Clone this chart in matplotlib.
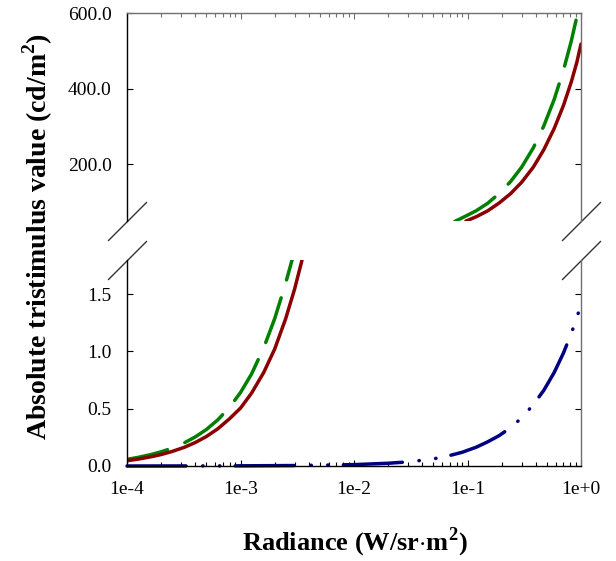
import matplotlib
matplotlib.use("Agg")
import matplotlib.pyplot as plt
from matplotlib.ticker import LogLocator, FixedLocator, FixedFormatter, NullFormatter

plt.rcParams['font.family'] = ['Liberation Serif', 'DejaVu Serif']
plt.rcParams['mathtext.fontset'] = 'custom'
plt.rcParams['mathtext.rm'] = 'Liberation Serif'
plt.rcParams['mathtext.bf'] = 'Liberation Serif:bold'
plt.rcParams['lines.scale_dashes'] = False

# ---- data ----
x_tick_vals = [1e-4, 1e-3, 1e-2, 1e-1, 1e0]
x_tick_labels = ['1e-4', '1e-3', '1e-2', '1e-1', '1e+0']
ytop_ticks = [200.0, 400.0, 600.0]
ytop_labels = ['200.0', '400.0', '600.0']
ybot_ticks = [0.0, 0.5, 1.0, 1.5]
ybot_labels = ['0.0', '0.5', '1.0', '1.5']

red_lo_x = [1e-4, 1.25e-4, 1.6e-4, 2e-4, 2.5e-4, 3.2e-4, 4e-4, 5e-4, 6.3e-4, 8e-4,
            1e-3, 1.25e-3, 1.6e-3, 2e-3, 2.5e-3, 3.0e-3, 3.49e-3]
red_lo_y = [0.046, 0.060, 0.079, 0.100, 0.127, 0.163, 0.205, 0.257, 0.324, 0.412,
            0.505, 0.635, 0.815, 1.02, 1.285, 1.545, 1.80]

green_lo_x = [1e-4, 1.25e-4, 1.6e-4, 2e-4, 2.5e-4, 3.2e-4, 4e-4, 5e-4, 6.3e-4, 8e-4,
              1e-3, 1.25e-3, 1.6e-3, 2e-3, 2.5e-3, 2.85e-3]
green_lo_y = [0.058, 0.075, 0.098, 0.124, 0.156, 0.202, 0.254, 0.318, 0.402, 0.512,
              0.641, 0.802, 1.03, 1.285, 1.595, 1.80]

red_hi_x = [0.0966, 0.12, 0.15, 0.19, 0.24, 0.3, 0.38, 0.47, 0.58, 0.7, 0.82, 0.92, 1.0]
red_hi_y = [49, 61, 76, 97, 122, 152, 192, 238, 294, 355, 417, 470, 518]

green_hi_x = [0.077, 0.093, 0.12, 0.15, 0.19, 0.24, 0.3, 0.38, 0.47, 0.58, 0.7, 0.82, 0.935]
green_hi_y = [48, 60, 77, 96, 122, 154, 192, 243, 301, 371, 448, 525, 600]

blue_x = [1e-4, 3e-4, 1e-3, 3e-3, 1e-2, 2e-2, 3e-2, 4e-2, 5.3e-2, 7e-2, 0.09, 0.12,
          0.15, 0.19, 0.24, 0.3, 0.38, 0.47, 0.58, 0.7, 0.82, 0.92, 1.0]
blue_y = [0.0, 0.0005, 0.0015, 0.004, 0.012, 0.024, 0.036, 0.05, 0.067, 0.092, 0.12,
          0.165, 0.21, 0.265, 0.335, 0.42, 0.535, 0.66, 0.815, 0.985, 1.155, 1.295, 1.41]

GREEN = '#008000'
RED = '#8B0000'
BLUE = '#000080'
SPINE_GREY = '#707070'

W, H = 616, 561
fig = plt.figure(figsize=(W / 100, H / 100), dpi=100)
L, R = 127, 581
ax_top = fig.add_axes([L / W, 1 - 221 / H, (R - L) / W, (221 - 13) / H])
ax_bot = fig.add_axes([L / W, 1 - 466 / H, (R - L) / W, (466 - 260) / H])

lw = 2.5
green_dash_lo = (4, (34, 13.5))
green_dash_hi = (0, (34, 13.5))
blue_dash = (0, (42.5, 12, 0.3, 11.8, 0.3, 11))

for ax in (ax_top, ax_bot):
    ax.set_xscale('log')
    ax.set_xlim(1e-4, 1.0)
    ax.xaxis.set_major_locator(FixedLocator(x_tick_vals))
    ax.xaxis.set_minor_locator(LogLocator(base=10, subs=[2, 3, 4, 5, 6, 7, 8, 9]))
    ax.xaxis.set_minor_formatter(NullFormatter())
    ax.tick_params(which='major', direction='in', length=6 * 0.72, width=0.8,
                   labelsize=14)
    ax.tick_params(which='minor', direction='in', length=4 * 0.72, width=0.8)
    ax.tick_params(axis='y', left=True, right=True, pad=11)
    ax.spines['left'].set_linewidth(1.0)
    ax.spines['right'].set_linewidth(1.0)
    ax.spines['right'].set_color(SPINE_GREY)

# top panel
ax_top.plot(green_hi_x, green_hi_y, color=GREEN, lw=lw, linestyle=green_dash_hi,
            dash_capstyle='round')
ax_top.plot(red_hi_x, red_hi_y, color=RED, lw=lw, solid_capstyle='round')
ax_top.set_ylim(49.4, 600)
ax_top.yaxis.set_major_locator(FixedLocator(ytop_ticks))
ax_top.yaxis.set_major_formatter(FixedFormatter(ytop_labels))
ax_top.spines['bottom'].set_visible(False)
ax_top.spines['top'].set_color(SPINE_GREY)
ax_top.spines['top'].set_linewidth(1.0)
ax_top.tick_params(axis='x', which='both', bottom=False, top=True,
                   labelbottom=False, labeltop=False, color=SPINE_GREY)

# bottom panel
ax_bot.plot(green_lo_x, green_lo_y, color=GREEN, lw=lw, linestyle=green_dash_lo,
            dash_capstyle='round')
ax_bot.plot(red_lo_x, red_lo_y, color=RED, lw=lw, solid_capstyle='round')
ax_bot.plot(blue_x, blue_y, color=BLUE, lw=lw, linestyle=blue_dash,
            dash_capstyle='round', clip_on=False)
ax_bot.set_ylim(0, 1.797)
ax_bot.yaxis.set_major_locator(FixedLocator(ybot_ticks))
ax_bot.yaxis.set_major_formatter(FixedFormatter(ybot_labels))
ax_bot.xaxis.set_major_formatter(FixedFormatter(x_tick_labels))
ax_bot.spines['top'].set_visible(False)
ax_bot.spines['bottom'].set_linewidth(1.0)
ax_bot.tick_params(axis='x', which='both', top=False, bottom=True, pad=11)

# break marks
mk = dict(marker=[(-1, -1), (1, 1)], markersize=28, linestyle='none',
          color='#333333', mec='#333333', mew=1.0, clip_on=False)
ax_top.plot([0, 1], [0, 0], transform=ax_top.transAxes, **mk)
ax_bot.plot([0, 1], [1, 1], transform=ax_bot.transAxes, **mk)

fig.text(38 / W, 1 - 236 / H, r'Absolute tristimulus value (cd/m$^\mathbf{2}$)',
         rotation=90, ha='center', va='center', fontsize=20, fontweight='bold')
fig.text(355 / W, 1 - 542 / H, r'Radiance (W/sr$\cdot$m$^\mathbf{2}$)',
         ha='center', va='center', fontsize=19, fontweight='bold')

fig.savefig('out.png', dpi=100)
